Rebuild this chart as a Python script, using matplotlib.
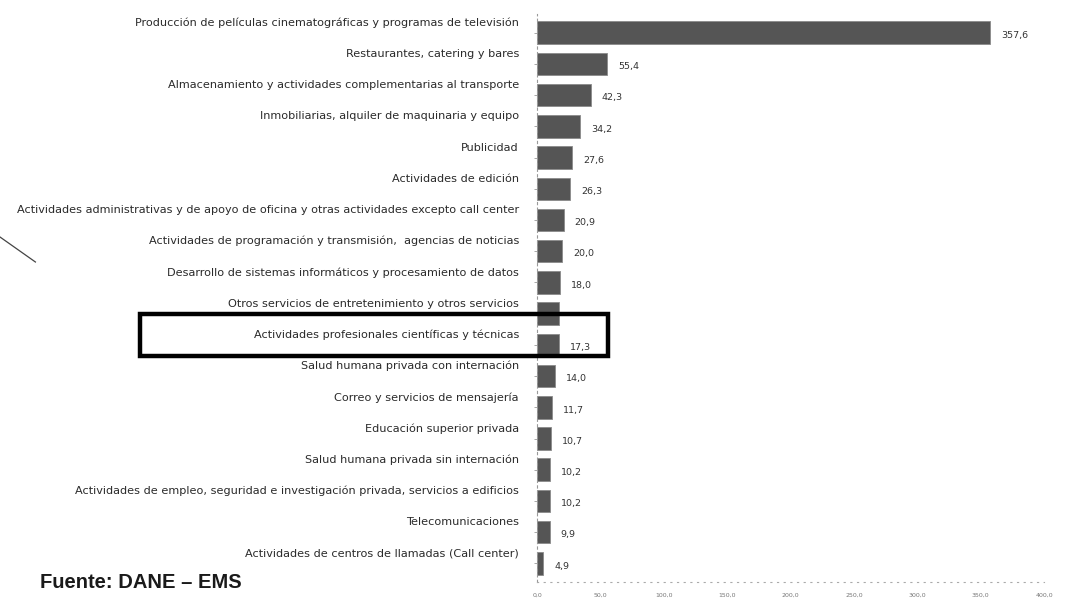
import numpy as np
import matplotlib.pyplot as plt
import matplotlib.transforms as mtransforms
from matplotlib.patches import Rectangle

# Data (DANE - EMS)
categories = [
    "Producción de películas cinematográficas y programas de televisión",
    "Restaurantes, catering y bares",
    "Almacenamiento y actividades complementarias al transporte",
    "Inmobiliarias, alquiler de maquinaria y equipo",
    "Publicidad",
    "Actividades de edición",
    "Actividades administrativas y de apoyo de oficina y otras actividades excepto call center",
    "Actividades de programación y transmisión,  agencias de noticias",
    "Desarrollo de sistemas informáticos y procesamiento de datos",
    "Otros servicios de entretenimiento y otros servicios",
    "Actividades profesionales científicas y técnicas",
    "Salud humana privada con internación",
    "Correo y servicios de mensajería",
    "Educación superior privada",
    "Salud humana privada sin internación",
    "Actividades de empleo, seguridad e investigación privada, servicios a edificios",
    "Telecomunicaciones",
    "Actividades de centros de llamadas (Call center)",
]
values = [357.6, 55.4, 42.3, 34.2, 27.6, 26.3, 20.9, 20.0, 18.0, 17.6,
          17.3, 14.0, 11.7, 10.7, 10.2, 10.2, 9.9, 4.9]
# value labels shown next to bars (the one under the box is hidden)
show_label = [True] * 9 + [False] + [True] * 8
x_ticks = [0, 50, 100, 150, 200, 250, 300, 350, 400]
highlight = "Actividades profesionales científicas y técnicas"

plt.rcParams['font.family'] = ['DejaVu Sans']

fig = plt.figure(figsize=(10.73, 6.07), dpi=100)
ax = fig.add_axes([0.5005, 0.041, 0.4725, 0.936])

y = np.arange(len(categories))
bars = ax.barh(y, values, height=0.72, color="#555555", edgecolor="#8a8a8a", linewidth=0.6)

ax.set_xlim(0, 400)
ax.set_ylim(len(categories) - 0.4, -0.6)

ax.set_yticks(y)
ax.set_yticklabels(categories, fontsize=8.1, color="#2a2a2a")
ax.tick_params(axis="y", length=2, width=0.6, color="#999999", pad=11)
# labels in the scan sit a little above their bars
shift = mtransforms.ScaledTranslation(0, 11 / 100, fig.dpi_scale_trans)
for lab in ax.get_yticklabels():
    lab.set_transform(lab.get_transform() + shift)

ax.set_xticks(x_ticks)
ax.set_xticklabels([f"{t:.1f}".replace(".", ",") for t in x_ticks], fontsize=4.5, color="#777777")
ax.tick_params(axis="x", length=0, pad=8)

for s in ["top", "right"]:
    ax.spines[s].set_visible(False)
ax.spines["left"].set_linestyle((0, (2, 3)))
ax.spines["left"].set_color("#999999")
ax.spines["left"].set_linewidth(0.8)
ax.spines["bottom"].set_linestyle((0, (1, 5)))
ax.spines["bottom"].set_color("#aaaaaa")
ax.spines["bottom"].set_linewidth(0.8)

for bar, v, show in zip(bars, values, show_label):
    if show:
        ax.annotate(f"{v:.1f}".replace(".", ","), (bar.get_width(), bar.get_y() + bar.get_height() / 2),
                    xytext=(8, -2), textcoords="offset points", va="center", ha="left",
                    fontsize=6.8, color="#333333")

# highlight box round the professional activities row
i = categories.index(highlight)
trans = mtransforms.blended_transform_factory(fig.transFigure, ax.transData)
box = Rectangle((0.1305, i + 0.37), 0.436, -1.37, transform=trans, fill=False,
                edgecolor="black", linewidth=3.2, clip_on=False)
fig.add_artist(box)

# stray pen stroke on the left of the scan
fig.add_artist(plt.Line2D([0.0, 0.033], [1 - 237 / 607, 1 - 262 / 607],
                          transform=fig.transFigure, color="#444444", linewidth=0.9))

fig.text(0.037, 0.04, "Fuente: DANE – EMS", fontsize=14.5, fontweight="bold",
         family=["Liberation Sans", "DejaVu Sans"], color="#1a1a1a", ha="left", va="center")

plt.savefig("out.png", dpi=100)
